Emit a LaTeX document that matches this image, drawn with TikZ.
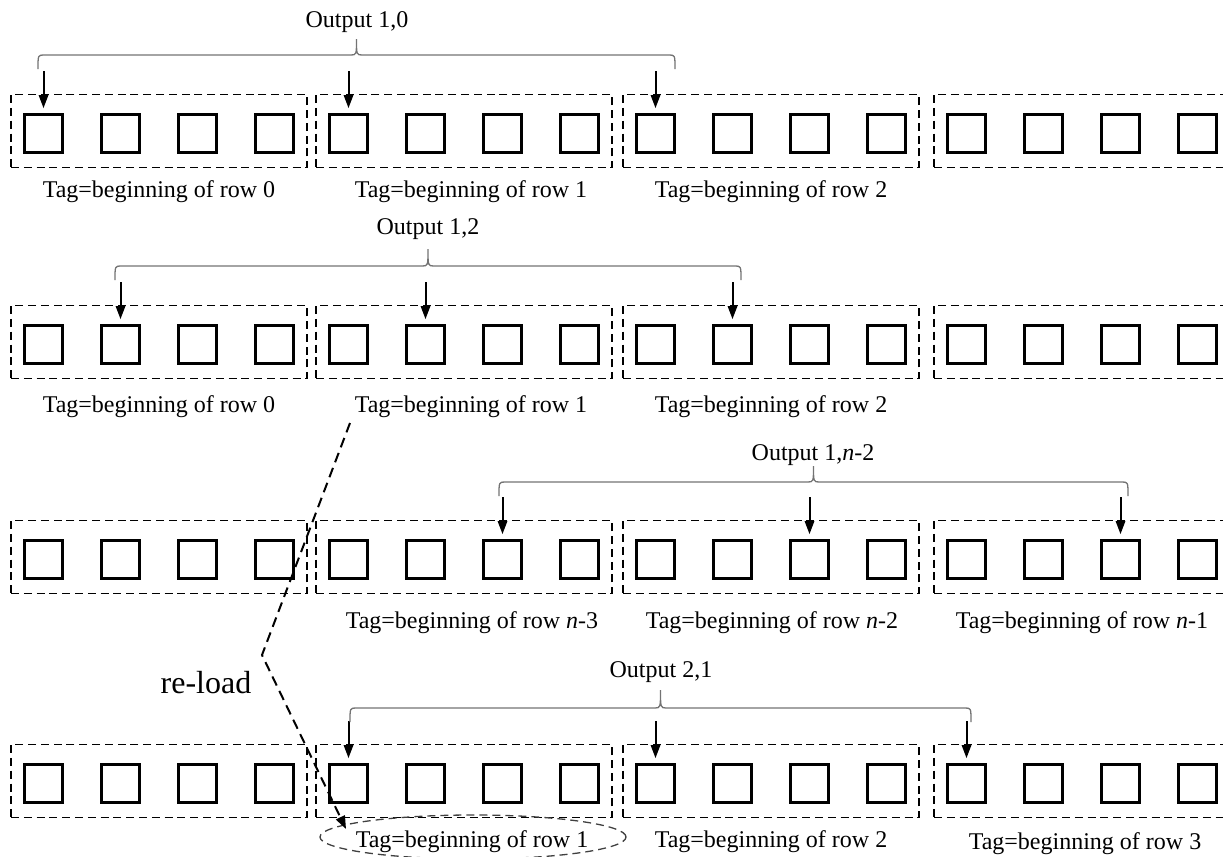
\documentclass[tikz,border=0pt]{standalone}
\usepackage{fontspec}
\setmainfont{Liberation Serif}
\usetikzlibrary{arrows.meta,shapes.geometric}

\tikzset{
  memblock/.style={draw, dash pattern=on 4pt off 2.4pt, line width=0.9pt,
    inner sep=0pt, minimum width=148pt, minimum height=36.5pt},
  cell/.style={draw, line width=1.7pt, inner sep=0pt, minimum size=19pt},
  feed/.style={line width=1pt, -{Triangle[length=6.5pt,width=4.6pt]}},
  grouping/.style={draw=black!55, line width=0.65pt},
  tagtext/.style={anchor=base, inner sep=0pt, font=\fontsize{12}{14}\selectfont},
  outtext/.style={anchor=base, inner sep=0pt, font=\fontsize{12}{14}\selectfont},
  reloadline/.style={line width=1pt, dash pattern=on 5pt off 3pt,
    -{Triangle[length=6.5pt,width=4.8pt]}},
  reloadmark/.style={draw=black!75, ellipse, line width=0.65pt,
    dash pattern=on 4pt off 2.5pt, inner sep=0pt,
    minimum width=153pt, minimum height=22pt},
}

\begin{document}
\begin{tikzpicture}[x=0.5pt,y=-0.5pt]
\useasboundingbox (0,0) rectangle (1223,857);
\clip (0,0) rectangle (1223,857);

% four rows of four memory blocks, each holding four cells
\foreach \r/\top in {1/94,2/305,3/520,4/744} {
  \foreach \b/\lft in {1/11,2/316,3/623,4/934} {
    \node[memblock] (blk\r\b) at (\lft+148,\top+37) {};
    \foreach \c/\off in {1/12,2/89,3/166,4/243} {
      \node[cell] (c\r\b\c) at (\lft+\off+20.5,\top+39.5) {};
    }
  }
}

% read pointers into the cells
\foreach \r/\b/\c in {1/1/1,1/2/1,1/3/1, 2/1/2,2/2/2,2/3/2,
                      3/2/3,3/3/3,3/4/3, 4/2/1,4/3/1,4/4/1} {
  \draw[feed] ([yshift=20.8pt]c\r\b\c.north) -- ([yshift=2.3pt]c\r\b\c.north);
}

% braces grouping the pointers of one output:
% left end, right end, foot level, bar level, tip level
\foreach \L/\R/\E/\H/\T in {38/675/69/55/39, 115/741/280/266/249,
                            499/1128/496/482/466, 350/971/722/708/690} {
  \pgfmathsetmacro{\M}{(\L+\R)/2}
  \draw[grouping] (\L,\E) .. controls (\L,\H) .. (\L+6,\H) -- (\M-6,\H)
    .. controls (\M,\H) .. (\M,\T) .. controls (\M,\H) .. (\M+6,\H)
    -- (\R-6,\H) .. controls (\R,\H) .. (\R,\E);
}

\node[outtext] (out1) at (357,27)  {Output 1,0};
\node[outtext] (out2) at (428,234) {Output 1,2};
\node[outtext] (out3) at (813,460) {Output 1,\textit{n}-2};
\node[outtext] (out4) at (661,677) {Output 2,1};

% block tags
\node[tagtext] (lab11) at (159,197) {Tag=beginning of row 0};
\node[tagtext] (lab12) at (471,197) {Tag=beginning of row 1};
\node[tagtext] (lab13) at (771,197) {Tag=beginning of row 2};

\node[tagtext] (lab21) at (159,412) {Tag=beginning of row 0};
\node[tagtext] (lab22) at (471,412) {Tag=beginning of row 1};
\node[tagtext] (lab23) at (771,412) {Tag=beginning of row 2};

\node[tagtext] (lab32) at (472,628) {Tag=beginning of row \textit{n}-3};
\node[tagtext] (lab33) at (772,628) {Tag=beginning of row \textit{n}-2};
\node[tagtext] (lab34) at (1082,628) {Tag=beginning of row \textit{n}-1};

\node[tagtext] (lab42) at (472,847) {Tag=beginning of row 1};
\node[tagtext] (lab43) at (771,847) {Tag=beginning of row 2};
\node[tagtext] (lab44) at (1085,849) {Tag=beginning of row 3};

% the reloaded tag
\node[reloadmark] (again) at (473,837) {};
\coordinate (rl0) at (350,423);
\coordinate (kink) at (262,655);
\coordinate (rlend) at (346,829);
\draw[reloadline] (rl0) -- (kink) -- (rlend);
\node[anchor=base, inner sep=0pt, font=\fontsize{16}{18}\selectfont] (rl) at (206,693) {re-load};

\end{tikzpicture}
\end{document}
